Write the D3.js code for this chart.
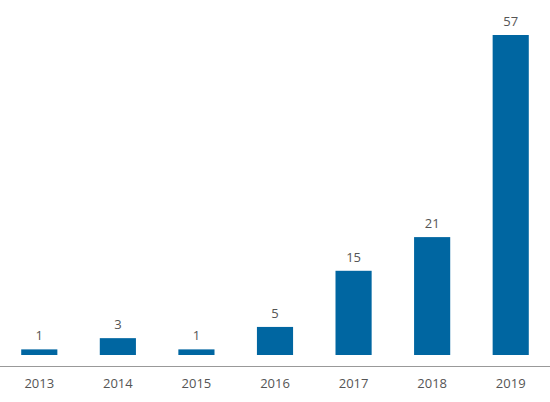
<!DOCTYPE html>
<html><head><meta charset="utf-8">
<script src="https://cdn.jsdelivr.net/npm/d3@7"></script>
<style>body{margin:0;background:#fff}text{font-family:"Open Sans",sans-serif}</style>
</head><body><svg id="c" width="550" height="402"></svg>
<script>
const years = ["2013","2014","2015","2016","2017","2018","2019"];
const values = [1,3,1,5,15,21,57];
const svg = d3.select("#c");
const x = d3.scaleBand().domain(years).range([0,550]).paddingInner(0.54).paddingOuter(0.27);
const y = d3.scaleLinear().domain([0,57]).range([355,35]);
svg.selectAll("rect.b").data(values).join("rect")
  .attr("x",(d,i)=>x(years[i])).attr("width",x.bandwidth())
  .attr("y",d=>y(d)).attr("height",d=>y(0)-y(d)).attr("fill","#0066a1");
svg.selectAll("text.v").data(values).join("text")
  .attr("x",(d,i)=>x(years[i])+x.bandwidth()/2).attr("y",d=>y(d)-9)
  .attr("text-anchor","middle").attr("font-size",13).attr("fill","#555").text(d=>d);
svg.append("line").attr("x1",0).attr("x2",550).attr("y1",366.5).attr("y2",366.5).attr("stroke","#999");
svg.selectAll("text.t").data(years).join("text")
  .attr("x",d=>x(d)+x.bandwidth()/2).attr("y",388)
  .attr("text-anchor","middle").attr("font-size",13).attr("fill","#555").text(d=>d);
</script></body></html>
